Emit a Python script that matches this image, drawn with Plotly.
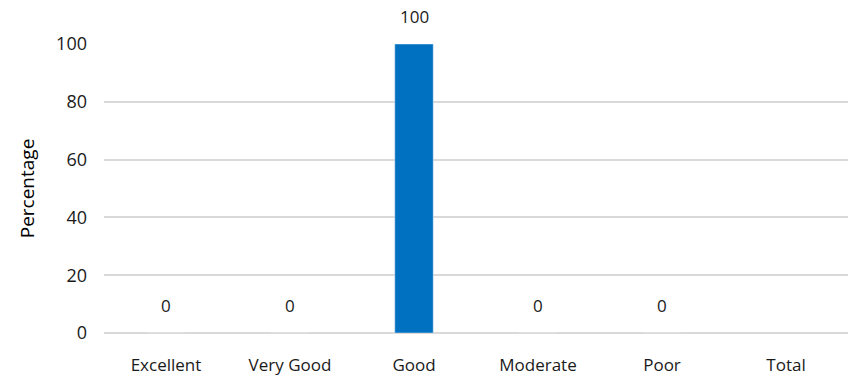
import plotly.graph_objects as go

categories = ["Excellent", "Very Good", "Good", "Moderate", "Poor", "Total"]
percentages = [0, 0, 100, 0, 0, None]
y_ticks = [0, 20, 40, 60, 80, 100]

fig = go.Figure(
    go.Bar(
        x=categories,
        y=percentages,
        marker_color="#0070C0",
        width=0.31,
    )
)

# value labels above each bar (skipped where there is no value)
for cat, val in zip(categories, percentages):
    if val is None:
        continue
    fig.add_annotation(
        x=cat,
        y=val,
        text=str(val),
        showarrow=False,
        yshift=28,
        font=dict(family="Open Sans", size=17, color="#1a1a1a"),
    )

fig.update_layout(
    width=849,
    height=381,
    margin=dict(l=104, r=1, t=44, b=48),
    paper_bgcolor="white",
    plot_bgcolor="white",
    showlegend=False,
    font=dict(family="Open Sans", size=17, color="#1a1a1a"),
    xaxis=dict(
        showgrid=False,
        showline=False,
        ticks="",
        ticklabelstandoff=20,
        tickfont=dict(size=17),
    ),
    yaxis=dict(
        range=[0, 100],
        tickvals=y_ticks,
        showgrid=True,
        gridcolor="#d9d9d9",
        gridwidth=2,
        zeroline=True,
        zerolinecolor="#d9d9d9",
        zerolinewidth=2,
        ticks="",
        ticklabelstandoff=16,
        tickfont=dict(size=18),
        title=dict(text="Percentage", font=dict(size=19, color="#000000"), standoff=16),
    ),
)

fig.write_html("out.html")
